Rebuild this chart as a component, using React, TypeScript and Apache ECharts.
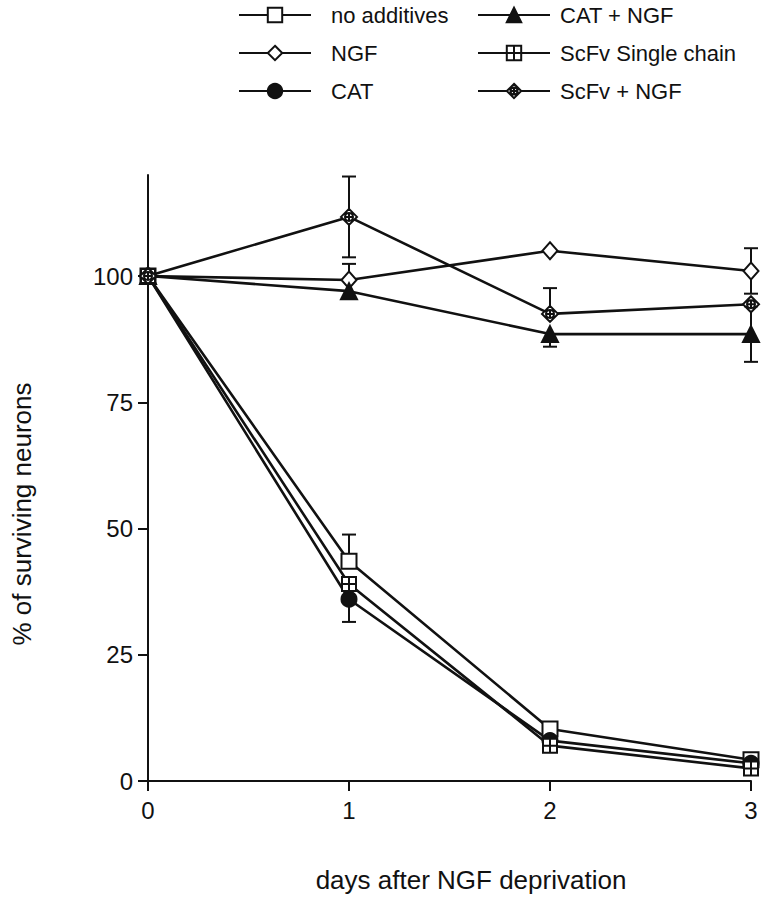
import React, { useEffect, useRef } from "react";
import * as echarts from "echarts";

// ---- data ----
const days = [0, 1, 2, 3];
const yTicks = [0, 25, 50, 75, 100];

const seriesNames = [
  "no additives",
  "NGF",
  "CAT",
  "CAT + NGF",
  "ScFv Single chain",
  "ScFv + NGF",
];

const noAdditives = [100, 43.5, 10.3, 4.2];
const ngf = [100, 99.2, 105, 101];
const cat = [100, 36, 8, 3.5];
const catNgf = [100, 97, 88.5, 88.5];
const scfv = [100, 39, 7, 2.5];
const scfvNgf = [100, 111.7, 92.5, 94.4];

const noAdditivesErrUp = [0, 5.3, 0, 0];
const noAdditivesErrDown = [0, 0, 0, 0];
const ngfErrUp = [0, 3.2, 0, 4.5];
const ngfErrDown = [0, 0, 0, 4.5];
const catErrUp = [0, 0, 0, 0];
const catErrDown = [0, 4.5, 0, 0];
const catNgfErrUp = [0, 0, 0, 5.5];
const catNgfErrDown = [0, 0, 2.5, 5.5];
const scfvErrUp = [0, 0, 0, 0];
const scfvErrDown = [0, 0, 0, 0];
const scfvNgfErrUp = [0, 8, 5.1, 0];
const scfvNgfErrDown = [0, 8, 0, 0];

const FONT = '"Liberation Sans", Arial, Helvetica, sans-serif';
const INK = "#111";

const SQUARE_CROSS = "path://M0 0H10V10H0Z M5 0V10 M0 5H10";
const DIAMOND_CIRCLE_PLUS =
  "path://M6 0L12 6L6 12L0 6Z M9 6A3 3 0 1 1 3 6A3 3 0 1 1 9 6Z M6 3V9 M3 6H9";

export default function App() {
  const ref = useRef<HTMLDivElement>(null);

  useEffect(() => {
    document.body.style.margin = "0";
    if (!ref.current) return;
    const chart = echarts.init(ref.current, null, { renderer: "svg" });

    const pairs = (vals: number[]) => days.map((d, i) => [d, vals[i]]);
    const errPairs = (vals: number[], up: number[], down: number[]) =>
      days.map((d, i) => [d, vals[i], up[i], down[i]]);

    const lineSeries = (
      name: string,
      vals: number[],
      symbol: string,
      size: number | number[],
      fill: string
    ) => ({
      type: "line",
      name,
      data: pairs(vals),
      symbol,
      symbolSize: size,
      showAllSymbol: true,
      lineStyle: { color: INK, width: 2.6 },
      itemStyle: { color: fill, borderColor: INK, borderWidth: 2 },
      emphasis: { disabled: true },
      z: 3,
    });

    const errSeries = (vals: number[], up: number[], down: number[]) => ({
      type: "custom",
      data: errPairs(vals, up, down),
      z: 2,
      silent: true,
      renderItem: (params: any, api: any) => {
        const x = api.value(0);
        const y = api.value(1);
        const eu = api.value(2);
        const ed = api.value(3);
        const children: any[] = [];
        const c = api.coord([x, y]);
        const half = 7;
        const st = { stroke: INK, lineWidth: 2 };
        if (eu > 0) {
          const t = api.coord([x, y + eu]);
          children.push({ type: "line", shape: { x1: c[0], y1: c[1], x2: t[0], y2: t[1] }, style: st });
          children.push({ type: "line", shape: { x1: t[0] - half, y1: t[1], x2: t[0] + half, y2: t[1] }, style: st });
        }
        if (ed > 0) {
          const b = api.coord([x, y - ed]);
          children.push({ type: "line", shape: { x1: c[0], y1: c[1], x2: b[0], y2: b[1] }, style: st });
          children.push({ type: "line", shape: { x1: b[0] - half, y1: b[1], x2: b[0] + half, y2: b[1] }, style: st });
        }
        return { type: "group", children };
      },
    });

    const legendCommon = {
      orient: "vertical",
      top: 4,
      padding: 0,
      itemWidth: 72,
      itemHeight: 18,
      itemGap: 16,
      selectedMode: false,
    };

    const option: any = {
      animation: false,
      backgroundColor: "#fff",
      textStyle: { fontFamily: FONT },
      legend: [
        {
          ...legendCommon,
          left: 238,
          data: [seriesNames[0], seriesNames[1], seriesNames[2]],
          textStyle: { fontSize: 22, color: INK, fontFamily: FONT, padding: [0, 0, 0, 15] },
        },
        {
          ...legendCommon,
          left: 477,
          data: [seriesNames[3], seriesNames[4], seriesNames[5]],
          textStyle: { fontSize: 22, color: INK, fontFamily: FONT, padding: [0, 0, 0, 5] },
        },
      ],
      grid: { left: 148, right: 23, top: 175, bottom: 119, containLabel: false, outerBoundsMode: "none" },
      xAxis: {
        type: "value",
        min: 0,
        max: 3,
        interval: 1,
        splitLine: { show: false },
        axisLine: { show: true, lineStyle: { color: INK, width: 2 } },
        axisTick: { show: true, length: 10, lineStyle: { color: INK, width: 2 } },
        axisLabel: { fontSize: 24, color: INK, fontFamily: FONT, margin: 17 },
      },
      yAxis: {
        type: "value",
        min: 0,
        max: 120,
        interval: 25,
        splitLine: { show: false },
        axisLine: { show: true, lineStyle: { color: INK, width: 2 } },
        axisTick: { show: true, length: 10, lineStyle: { color: INK, width: 2 }, customValues: yTicks },
        axisLabel: { fontSize: 24, color: INK, fontFamily: FONT, margin: 15, customValues: yTicks },
      },
      graphic: [
        {
          type: "text",
          x: 471,
          y: 880,
          style: {
            text: "days after NGF deprivation",
            fontSize: 26,
            fontFamily: FONT,
            fill: INK,
            align: "center",
            verticalAlign: "middle",
          },
        },
        {
          type: "text",
          x: 22,
          y: 514,
          rotation: Math.PI / 2,
          style: {
            text: "% of surviving neurons",
            fontSize: 26,
            fontFamily: FONT,
            fill: INK,
            align: "center",
            verticalAlign: "middle",
          },
        },
      ],
      series: [
        errSeries(noAdditives, noAdditivesErrUp, noAdditivesErrDown),
        errSeries(ngf, ngfErrUp, ngfErrDown),
        errSeries(cat, catErrUp, catErrDown),
        errSeries(catNgf, catNgfErrUp, catNgfErrDown),
        errSeries(scfv, scfvErrUp, scfvErrDown),
        errSeries(scfvNgf, scfvNgfErrUp, scfvNgfErrDown),
        lineSeries(seriesNames[0], noAdditives, "rect", 15, "#fff"),
        lineSeries(seriesNames[1], ngf, "diamond", [15, 17], "#fff"),
        lineSeries(seriesNames[2], cat, "circle", 15, INK),
        lineSeries(seriesNames[3], catNgf, "triangle", 16, INK),
        lineSeries(seriesNames[4], scfv, SQUARE_CROSS, 14, "#fff"),
        lineSeries(seriesNames[5], scfvNgf, DIAMOND_CIRCLE_PLUS, 16, "#fff"),
      ],
    };

    chart.setOption(option);
    return () => chart.dispose();
  }, []);

  return <div ref={ref} style={{ width: 774, height: 900 }} />;
}
